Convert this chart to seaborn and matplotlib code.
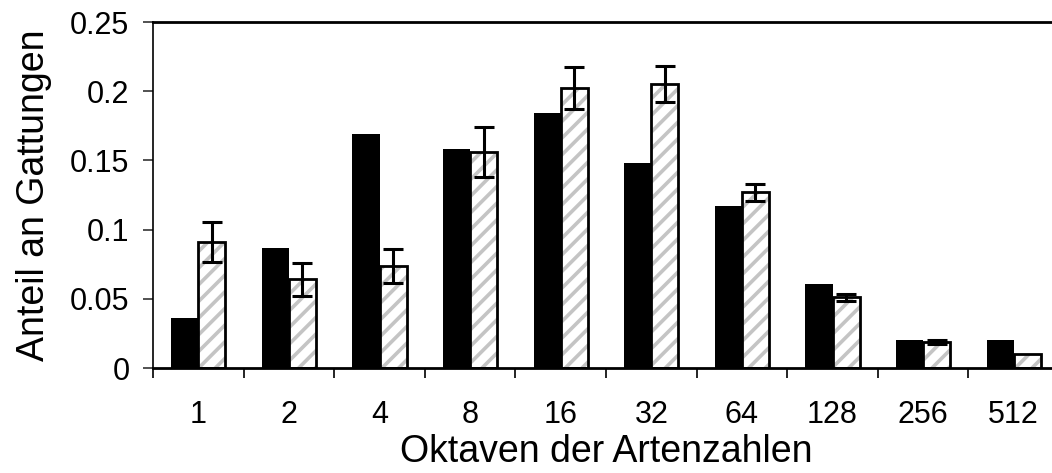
import matplotlib
matplotlib.use("Agg")
import matplotlib.pyplot as plt
from matplotlib.patches import Rectangle
from matplotlib.ticker import FixedLocator
import seaborn as sns
import pandas as pd
import numpy as np

# ---- data ----
categories = ["1", "2", "4", "8", "16", "32", "64", "128", "256", "512"]
observed = [0.036, 0.087, 0.169, 0.158, 0.184, 0.148, 0.117, 0.061, 0.020, 0.020]
model = [0.091, 0.064, 0.074, 0.156, 0.202, 0.205, 0.127, 0.051, 0.019, 0.010]
model_err = [0.0145, 0.012, 0.0123, 0.018, 0.0152, 0.013, 0.006, 0.0028, 0.0015, 0.0]
series = ["Beobachtet", "Modell"]
y_ticks = [0, 0.05, 0.1, 0.15, 0.2, 0.25]
y_tick_labels = ["0", "0.05", "0.1", "0.15", "0.2", "0.25"]

df = pd.DataFrame({
    "Oktave": categories * 2,
    "Anteil": observed + model,
    "Serie": [series[0]] * len(categories) + [series[1]] * len(categories),
})

sns.set_style("white")
plt.rcParams["font.family"] = ["Liberation Sans", "DejaVu Sans"]
plt.rcParams["hatch.linewidth"] = 2.6
plt.rcParams["text.color"] = "black"
plt.rcParams["axes.labelcolor"] = "black"
plt.rcParams["xtick.color"] = "black"
plt.rcParams["ytick.color"] = "black"

fig = plt.figure(figsize=(10.52, 4.73), dpi=100)
ax = fig.add_axes([153 / 1052, 105 / 473, (1059 - 153) / 1052, 346 / 473])

sns.barplot(data=df, x="Oktave", y="Anteil", hue="Serie", order=categories,
            hue_order=series, palette=["#000000", "#ffffff"], width=0.6,
            errorbar=None, legend=False, ax=ax, saturation=1)

black_bars = ax.containers[0]
hatch_bars = ax.containers[1]
for p in black_bars:
    p.set_edgecolor("black")
    p.set_linewidth(0)
for p in hatch_bars:
    p.set_facecolor("white")
    p.set_edgecolor("#c4c4c4")
    p.set_hatch("//")
    p.set_linewidth(0)
    outline = Rectangle((p.get_x(), p.get_y()), p.get_width(), p.get_height(),
                        fill=False, edgecolor="black", linewidth=2.0, zorder=p.get_zorder() + 0.1)
    ax.add_patch(outline)

# error bars on the hatched series, positioned from the drawn bars
xs = [p.get_x() + p.get_width() / 2 for p in hatch_bars]
for x, y, e in zip(xs, model, model_err):
    if e > 0:
        ax.errorbar(x, y, yerr=e, fmt="none", ecolor="black", elinewidth=2.2,
                    capsize=7, capthick=2.2, zorder=5)

ax.set_ylim(0, 0.25)
ax.set_xlim(-0.5, len(categories) - 0.5)
ax.set_yticks(y_ticks)
ax.set_yticklabels(y_tick_labels)

# category boundaries as tick marks, labels centered without marks
ax.xaxis.set_minor_locator(FixedLocator(np.arange(-0.5, len(categories), 1.0)))
ax.tick_params(axis="x", which="major", length=0, pad=23, labelsize=22)
ax.tick_params(axis="x", which="minor", bottom=True, length=7, width=1.2, color="black", direction="out")
ax.tick_params(axis="y", which="major", left=True, length=7, width=1.2, color="#333333",
               direction="out", labelsize=22, pad=10)

ax.set_xlabel("Oktaven der Artenzahlen", fontsize=27, labelpad=3)
ax.set_ylabel("Anteil an Gattungen", fontsize=27, labelpad=13)

for side in ["top", "bottom", "left", "right"]:
    ax.spines[side].set_color("black")
ax.spines["top"].set_linewidth(2.0)
ax.spines["bottom"].set_linewidth(2.0)
ax.spines["left"].set_linewidth(1.2)
ax.spines["right"].set_visible(False)

fig.savefig("out.png", dpi=100)
